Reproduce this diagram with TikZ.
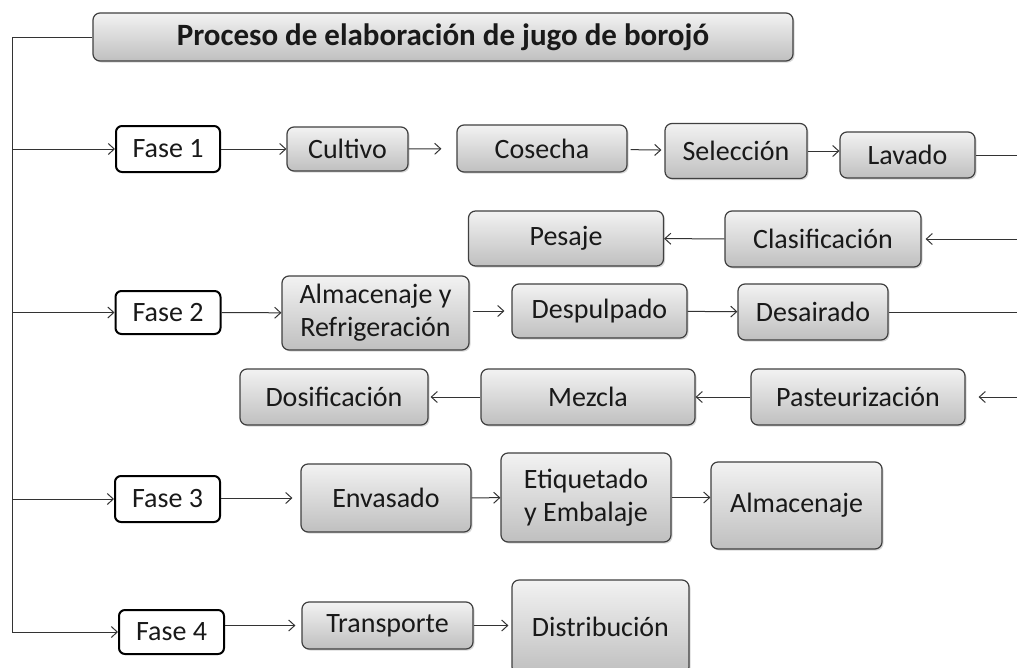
\documentclass[tikz,border=0pt]{standalone}
\usepackage{fontspec}
\setmainfont{Carlito}
\usetikzlibrary{shadows,arrows.meta}

\begin{document}
\begin{tikzpicture}
[x=1pt,y=-1pt,font=\fontsize{28}{33}\selectfont]
\tikzstyle{gray box}=[draw=black!75,line width=1.2pt,rounded corners=7pt,top color=black!5,bottom color=black!25,
  drop shadow={shadow xshift=1.5pt,shadow yshift=-1.5pt,opacity=0.3},inner sep=0,align=center,text=black!90]
\tikzstyle{phase box}=[draw=black,line width=2pt,rounded corners=6pt,fill=white,inner sep=0,text=black!90]
\tikzstyle{link}=[-{Straight Barb[length=6pt,width=11pt,line width=1pt]},line width=1pt,draw=black!80]

\clip(0,0)rectangle(1017,667);
\fill[white](0,0)rectangle(1017,667);

\node(title)[gray box,minimum width=700pt,minimum height=48pt]at(443,37){\fontsize{31}{36}\selectfont\bfseries Proceso de elaboración de jugo de borojó};

\node(f1)[phase box,minimum width=104pt,minimum height=46pt]at(168,149){Fase 1};
\node(f2)[phase box,minimum width=105pt,minimum height=43pt]at(168,312.5){Fase 2};
\node(f3)[phase box,minimum width=105pt,minimum height=46pt]at(167.5,499){Fase 3};
\node(f4)[phase box,minimum width=105pt,minimum height=44pt]at(171.5,632){Fase 4};

\node(cult)[gray box,minimum width=121pt,minimum height=44pt]at(347.5,149){Cultivo};
\node(cos)[gray box,minimum width=170pt,minimum height=47pt]at(542,148.5){Cosecha};
\node(sel)[gray box,minimum width=142pt,minimum height=55pt]at(736,151){Selección};
\node(lav)[gray box,minimum width=135pt,minimum height=46pt]at(907.5,155){Lavado};

\node(pes)[gray box,minimum width=195pt,minimum height=55pt]at(566,238.5){Pesaje};
\node(clas)[gray box,minimum width=196pt,minimum height=56pt]at(823,239){Clasificación};

\node(alm)[gray box,minimum width=187pt,minimum height=74pt]at(375.5,313){Almacenaje y\\Refrigeración};
\node(desp)[gray box,minimum width=175pt,minimum height=54pt]at(599.5,311){Despulpado};
\node(desa)[gray box,minimum width=150pt,minimum height=56pt]at(813,312){Desairado};

\node(dos)[gray box,minimum width=188pt,minimum height=56pt]at(334,397){Dosificación};
\node(mez)[gray box,minimum width=214pt,minimum height=56pt]at(588,397){Mezcla};
\node(past)[gray box,minimum width=214pt,minimum height=56pt]at(858,397){Pasteurización};

\node(env)[gray box,minimum width=170pt,minimum height=68pt]at(386,498){Envasado};
\node(eti)[gray box,minimum width=170pt,minimum height=89pt]at(586,497.5){Etiquetado\\y Embalaje};
\node(almc)[gray box,minimum width=171pt,minimum height=87pt]at(796.5,505.5){Almacenaje};

\node(trans)[gray box,minimum width=171pt,minimum height=47pt]at(387.5,625.5){Transporte};
\node(dist)[gray box,minimum width=177pt,minimum height=94pt]at(600.5,627){Distribución};

\coordinate(top)at(12,37);
\coordinate(edge)at(1025,0);

\draw[line width=1pt,draw=black!80](title.west)--(top)--(top|-f4);
\draw[link](top|-f1)--(f1);
\draw[link](top|-f2)--(f2);
\draw[link](top|-f3)--(f3);
\draw[link](top|-f4)--(f4);

\draw[link](f1)--(cult);
\draw[link,shorten >=15pt](cult)--(cos);
\draw[link,shorten <=3pt,shorten >=3pt](cos)--(sel);
\draw[link](sel.east)--(sel.east-|lav.west);
\draw[line width=1pt,draw=black!80](lav.east)--(lav.east-|edge);
\draw[link,shorten >=4pt](edge|-clas)--(clas);
\draw[link](clas)--(pes);

\draw[link](f2)--(alm);
\draw[link,shorten <=3pt,shorten >=7pt](alm.east|-desp)--(desp);
\draw[link](desp)--(desa);
\draw[line width=1pt,draw=black!80](desa.east)--(desa.east-|edge);
\draw[link,shorten >=13pt](edge|-past)--(past);
\draw[link](past)--(mez);
\draw[link,shorten >=2pt](mez)--(dos);

\draw[link,shorten >=8pt](f3.east|-env)--(env);
\draw[link](env)--(eti);
\draw[link](eti.east)--(eti.east-|almc.west);

\draw[link,shorten >=6pt](f4.east|-trans)--(trans);
\draw[link,shorten >=3pt](trans)--(trans-|dist.west);
\end{tikzpicture}
\end{document}
